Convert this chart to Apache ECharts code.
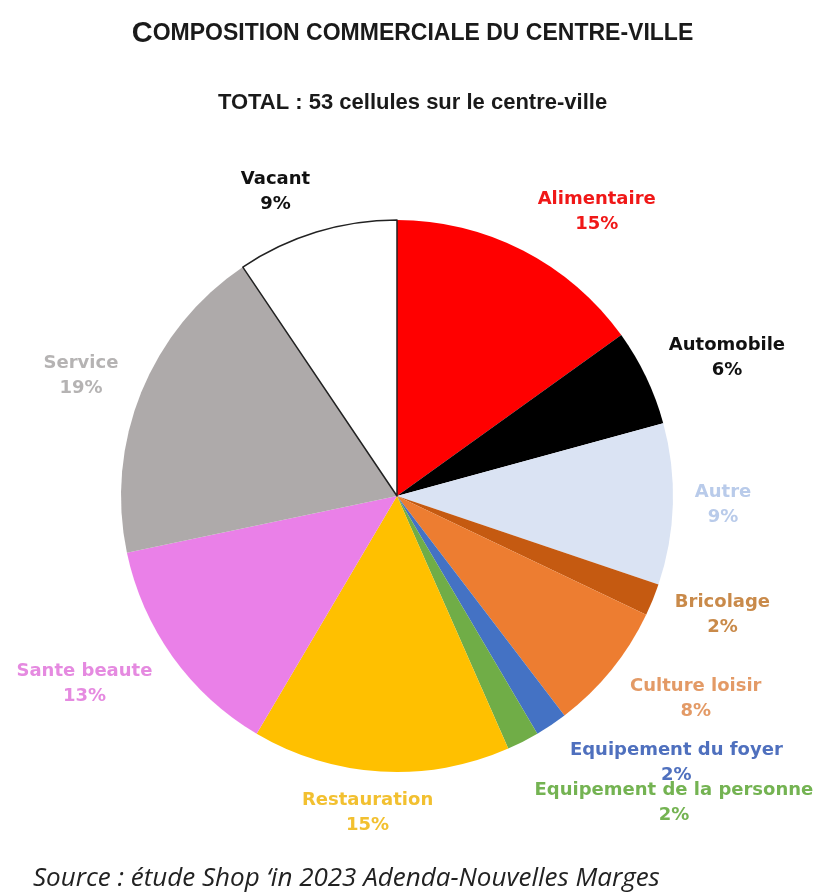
<!DOCTYPE html>
<html>
<head>
<meta charset="utf-8">
<script src="https://cdn.jsdelivr.net/npm/echarts@6/dist/echarts.min.js"></script>
<style>
html,body{margin:0;padding:0;background:#fff;}
#c{width:825px;height:894px;}
</style>
</head>
<body>
<div id="c"></div>
<script>
// ---- data ----
const categories = ['Alimentaire','Automobile','Autre','Bricolage','Culture loisir','Equipement du foyer','Equipement de la personne','Restauration','Sante beaute','Service','Vacant'];
const cellCounts = [8, 3, 5, 1, 4, 1, 1, 8, 7, 10, 5];
// ---- styles ----
const sliceColors = ['#FF0000','#000000','#DAE3F3','#C55A11','#ED7D31','#4472C4','#70AD47','#FFC000','#EA80E8','#AEAAAA','#FFFFFF'];
const labelColors = ['#F01818','#111111','#B9CBEA','#C98A4A','#E39A66','#4F70BE','#74B352','#F2C030','#E58AE0','#B5B3B3','#111111'];
const labelLineLengths = [43, 45, 22, 40, 46, 46, 69, 41, 46, 43, 42];
const labelShiftX = [-10, -23, -5, -20, -22, -12, -25, 60, 22, 22, 11];
const titleText = 'Composition commerciale du centre-ville';
const subtitleText = 'TOTAL : 53 cellules sur le centre-ville';
const sourceText = 'Source : étude Shop \u2018in 2023 Adenda-Nouvelles Marges';

const chart = echarts.init(document.getElementById('c'), null, {renderer:'canvas'});

const up = titleText.toUpperCase();
const titleRich = '{a|' + up.charAt(0) + '}{b|' + up.slice(1) + '}';
const labelFont = '"DejaVu Sans","Liberation Sans",Arial,sans-serif';

const data = categories.map((name, i) => ({
  name: name,
  value: cellCounts[i],
  itemStyle: {
    color: sliceColors[i],
    borderColor: name === 'Vacant' ? '#222' : sliceColors[i],
    borderWidth: name === 'Vacant' ? 1.5 : 0
  },
  label: { color: labelColors[i] },
  labelLine: { length: labelLineLengths[i], length2: 0 }
}));

chart.setOption({
  backgroundColor: '#fff',
  animation: false,
  title: [
    {
      text: titleRich,
      left: 'center',
      top: 14,
      textStyle: {
        rich: {
          a: { fontFamily: '"Liberation Sans",Arial', fontWeight: 'bold', fontSize: 29, color: '#1a1a1a' },
          b: { fontFamily: '"Liberation Sans",Arial', fontWeight: 'bold', fontSize: 23, color: '#1a1a1a' }
        }
      }
    },
    {
      text: subtitleText,
      left: 'center',
      top: 87,
      textStyle: { fontFamily: '"Liberation Sans",Arial', fontWeight: 'bold', fontSize: 22, color: '#1a1a1a' }
    },
    {
      text: sourceText,
      left: 28,
      top: 861,
      textStyle: { fontFamily: '"Open Sans",Carlito,sans-serif', fontStyle: 'italic', fontWeight: 'normal', fontSize: 26, color: '#222' }
    }
  ],
  series: [{
    type: 'pie',
    left: 0, top: 0, width: 1200, height: 894,
    center: [397, 496],
    radius: 276,
    startAngle: 90,
    clockwise: true,
    avoidLabelOverlap: false,
    label: {
      show: true,
      position: 'outside',
      fontFamily: labelFont,
      fontWeight: 'bold',
      fontSize: 18,
      lineHeight: 25,
      formatter: p => '{n|' + p.name + '}\n{p|' + Math.round(p.percent) + '%}',
      rich: {
        n: { fontFamily: labelFont, fontWeight: 'bold', fontSize: 18, lineHeight: 25, align: 'center' },
        p: { fontFamily: labelFont, fontWeight: 'bold', fontSize: 18, lineHeight: 25, align: 'center' }
      }
    },
    labelLine: { show: false },
    labelLayout: p => ({ dx: labelShiftX[p.dataIndex] }),
    emphasis: { disabled: true },
    data: data
  }]
});
</script>
</body>
</html>
